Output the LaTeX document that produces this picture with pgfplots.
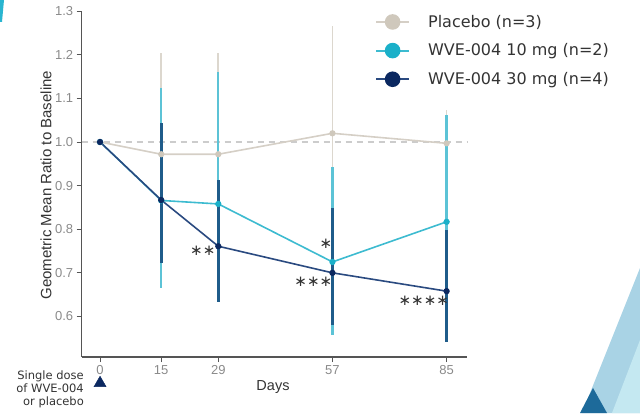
\documentclass[border=0pt]{standalone}
\usepackage{fontspec}
\setmainfont{Liberation Sans}
\newfontfamily\dejavu{DejaVu Sans}
\usepackage{pgfplots}
\pgfplotsset{compat=1.18}
\definecolor{plcline}{HTML}{D5CFC6}
\definecolor{plcmark}{HTML}{CFC8BC}
\definecolor{plcbar}{HTML}{DCD7CE}
\definecolor{tenline}{HTML}{3DBBD0}
\definecolor{tenmark}{HTML}{1AB0C9}
\definecolor{tenbar}{HTML}{5CC3D6}
\definecolor{thirline}{HTML}{2A4A80}
\definecolor{thirmark}{HTML}{0B2860}
\definecolor{thirbar}{HTML}{1F5C8A}
\definecolor{axisgray}{HTML}{555555}
\definecolor{tickgray}{HTML}{8A8A8A}
\definecolor{labelgray}{HTML}{333333}
\definecolor{decoLight}{HTML}{A9D3E5}
\definecolor{decoCyan}{HTML}{C4E8F1}
\definecolor{decoDark}{HTML}{1D6A9A}
\definecolor{topcyan}{HTML}{29B5D0}
\begin{document}
\begin{tikzpicture}[x=1pt,y=1pt]
\path[use as bounding box] (0pt,0pt) rectangle (640pt,413pt);
\fill[decoLight] (640pt,145pt) -- (582pt,0pt) -- (640pt,0pt) -- cycle;
\fill[decoCyan] (640pt,73pt) -- (612pt,0pt) -- (640pt,0pt) -- cycle;
\fill[decoDark] (593pt,25pt) -- (580pt,0pt) -- (607pt,0pt) -- cycle;
\fill[topcyan] (0pt,413pt) -- (4pt,413pt) -- (2pt,391pt) -- (0pt,391pt) -- cycle;
\node[anchor=north east, align=right, font=\dejavu\fontsize{11.5}{13}\selectfont, text=labelgray, inner sep=0pt] at (84pt,42pt) {Single dose\\of WVE-004\\or placebo};
\begin{axis}[
  at={(81.7pt,56pt)}, anchor=south west, scale only axis,
  width=385.3pt, height=345.8pt,
  xmin=-4.5, xmax=90, ymin=0.507, ymax=1.3,
  axis x line*=bottom, axis y line*=left,
  axis line style={draw=axisgray, line width=1.5pt, -},
  xtick={0,15,29,57,85}, xticklabels={0,15,29,57,85},
  ytick={0.6,0.7,0.8,0.9,1.0,1.1,1.2,1.3},
  yticklabels={0.6,0.7,0.8,0.9,1.0,1.1,1.2,1.3},
  tick align=outside, major tick length=5pt,
  tick style={draw=axisgray, line width=1pt},
  ticklabel style={font=\fontsize{13}{15}\selectfont, text=tickgray},
  clip=false,
  xlabel={Days},
  xlabel style={at={(axis description cs:0.4965,-0.0868)}, anchor=center, font=\fontsize{14.5}{16}\selectfont, text=labelgray},
  ylabel={Geometric Mean Ratio to Baseline},
  ylabel style={at={(axis description cs:-0.0927,0.497)}, anchor=center, font=\fontsize{15}{17}\selectfont, text=labelgray},
  legend style={at={(axis description cs:0.761,0.995)}, anchor=north west, draw=none, fill=none,
    font=\dejavu\fontsize{16}{18}\selectfont, text=labelgray, row sep=11pt, column sep=16pt, inner sep=0pt},
  legend cell align=left,
]
% reference line at 1.0
\addplot[forget plot, draw=black!20, line width=1.2pt, dash pattern=on 6pt off 5pt] coordinates {(-4.5,1) (90,1)};
% error bars
\addplot[forget plot, only marks, mark=none, error bars/.cd, y dir=both, y explicit, error mark=none,
  error bar style={draw=plcbar, line width=1.6pt}] coordinates {
 (15,0.972) += (0,0.233) -= (0,0.188)
 (29,0.972) += (0,0.233) -= (0,0.188)
 (57,1.020) += (0,0.245) -= (0,0.198)
 (85,0.997) += (0,0.076) -= (0,0.077)
};
\addplot[forget plot, only marks, mark=none, error bars/.cd, y dir=both, y explicit, error mark=none,
  error bar style={draw=tenbar, line width=2.4pt}] coordinates {
 (15,0.866) += (0,0.258) -= (0,0.201)
 (29,0.858) += (0,0.302) -= (0,0.226)
 (57,0.725) += (0,0.218) -= (0,0.168)
 (85,0.817) += (0,0.245) -= (0,0.190)
};
\addplot[forget plot, only marks, mark=none, error bars/.cd, y dir=both, y explicit, error mark=none,
  error bar style={draw=thirbar, line width=2.8pt}] coordinates {
 (15,0.867) += (0,0.177) -= (0,0.145)
 (29,0.761) += (0,0.152) -= (0,0.128)
 (57,0.700) += (0,0.149) -= (0,0.120)
 (85,0.658) += (0,0.140) -= (0,0.117)
};
% mean lines
\addplot[draw=plcline, line width=1.6pt, mark=*, mark size=2.3pt, mark options={fill=plcmark, draw=plcmark},
  legend image code/.code={\draw[plcline, line width=2pt] (0pt,0pt) -- (33pt,0pt); \fill[plcmark] (16.5pt,0pt) circle (7pt);}]
  coordinates {(0,1) (15,0.972) (29,0.972) (57,1.020) (85,0.997)};
\addlegendentry{Placebo (n=3)}
\addplot[draw=tenline, line width=1.6pt, mark=*, mark size=2.3pt, mark options={fill=tenmark, draw=tenmark},
  legend image code/.code={\draw[tenline, line width=2pt] (0pt,0pt) -- (33pt,0pt); \fill[tenmark] (16.5pt,0pt) circle (7pt);}]
  coordinates {(0,1) (15,0.866) (29,0.858) (57,0.725) (85,0.817)};
\addlegendentry{WVE-004 10 mg (n=2)}
\addplot[draw=thirline, line width=1.6pt, mark=*, mark size=2.3pt, mark options={fill=thirmark, draw=thirmark},
  legend image code/.code={\draw[thirline, line width=2pt] (0pt,0pt) -- (33pt,0pt); \fill[thirmark] (16.5pt,0pt) circle (7pt);}]
  coordinates {(0,1) (15,0.867) (29,0.761) (57,0.700) (85,0.658)};
\addlegendentry{WVE-004 30 mg (n=4)}
% dosing marker
\addplot[forget plot, only marks, mark=triangle*, mark size=7pt, color=thirmark] coordinates {(0,0.447)};
% significance
\node[font=\dejavu\fontsize{15}{15}\selectfont, text=labelgray] at (axis cs:25.2,0.75) {∗∗};
\node[font=\dejavu\fontsize{15}{15}\selectfont, text=labelgray] at (axis cs:55.4,0.766) {∗};
\node[font=\dejavu\fontsize{15}{15}\selectfont, text=labelgray] at (axis cs:52.3,0.679) {∗∗∗};
\node[font=\dejavu\fontsize{15}{15}\selectfont, text=labelgray] at (axis cs:79.4,0.635) {∗∗∗∗};
\end{axis}
\end{tikzpicture}
\end{document}
